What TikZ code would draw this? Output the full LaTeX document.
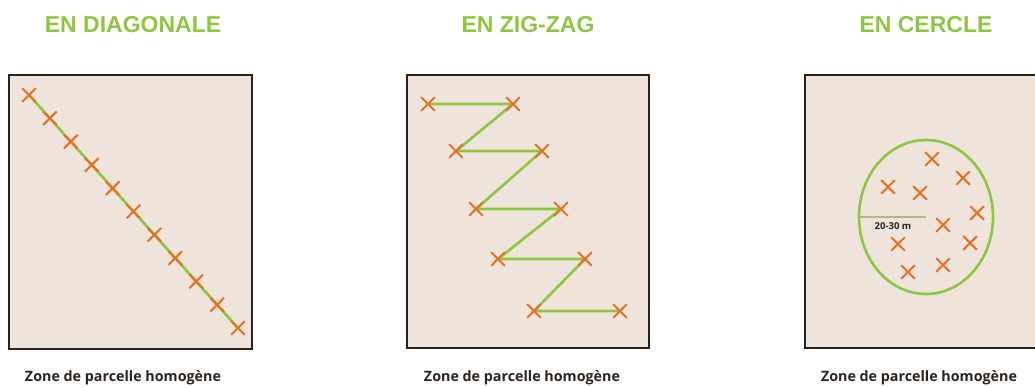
\documentclass[tikz,border=0pt]{standalone}
\usepackage{fontspec}
\setmainfont{Open Sans}
\newfontfamily\titlefont{Liberation Sans}
\usetikzlibrary{calc,shapes.misc,shapes.geometric,backgrounds}
\definecolor{fieldbg}{RGB}{238,228,220}
\definecolor{fieldline}{RGB}{42,32,28}
\definecolor{leafgreen}{RGB}{141,198,63}
\definecolor{pickorange}{RGB}{232,112,32}
\definecolor{radiusgreen}{RGB}{170,188,120}
\definecolor{labeldark}{RGB}{45,35,30}

\begin{document}
\begin{tikzpicture}[x=1pt, y=-1pt,
  plot/.style={draw=fieldline, fill=fieldbg, line width=2.6pt},
  ttl/.style={font=\titlefont\bfseries\fontsize{23}{23}\selectfont, text=leafgreen},
  foot/.style={font=\bfseries\fontsize{14.3}{14.3}\selectfont, text=labeldark},
  pick/.style={cross out, draw=pickorange, line width=2.1pt, minimum size=11.5pt,
    inner sep=0pt},
  track/.style={leafgreen, line width=2.6pt},
  ring/.style={ellipse, draw=leafgreen, line width=2.6pt, minimum width=134pt,
    minimum height=154pt, inner sep=0pt},
]
  \useasboundingbox (0,0) rectangle (1035,387);

  \node[ttl] (t1) at (133,25) {EN DIAGONALE};
  \node[ttl] (t2) at (528,25) {EN ZIG-ZAG};
  \node[ttl] (t3) at (926,25) {EN CERCLE};

  \foreach \i in {1,...,11}
    \node[pick] (d\i) at ($(29,95)!{(\i-1)/10}!(238,328)$) {};

  \foreach \i/\ax/\bx/\y in {1/428/513/104, 2/456/542/151, 3/476/561/209,
      4/498/585/259, 5/534/620/311} {
    \node[pick] (za\i) at (\ax,\y) {};
    \node[pick] (zb\i) at (\bx,\y) {};
  }

  \node[ring] (cr) at (926,217) {};
  \foreach \i/\x/\y in {1/932/159, 2/888/187, 3/920/193, 4/963/178, 5/977/213,
      6/943/225, 7/898/244, 8/970/243, 9/908/272, 10/943/265}
    \node[pick] (c\i) at (\x,\y) {};
  \node[font=\bfseries\fontsize{9.5}{9.5}\selectfont, text=labeldark] (rl) at (893,226)
    {20-30 m};

  \node[foot] (z1) at (123,378) {Zone de parcelle homogène};
  \node[foot] (z2) at (522,378) {Zone de parcelle homogène};
  \node[foot] (z3) at (919,378) {Zone de parcelle homogène};

  \begin{scope}[on background layer]
    \draw[plot] (9,75) rectangle (252,349);
    \draw[plot] (407,75) rectangle (649,348);
    \fill[fieldbg] (805,75) rectangle (1035,348);
    \draw[fieldline, line width=2.6pt] (1035,75) -| (805,348) -- (1035,348);
    \draw[track] (d1.center) -- (d11.center);
    \draw[track] (za1.center) -- (zb1.center) -- (za2.center) -- (zb2.center)
      -- (za3.center) -- (zb3.center) -- (za4.center) -- (zb4.center)
      -- (za5.center) -- (zb5.center);
    \draw[radiusgreen, line width=1.4pt] (cr.west) -- (cr.center);
  \end{scope}
\end{tikzpicture}
\end{document}
